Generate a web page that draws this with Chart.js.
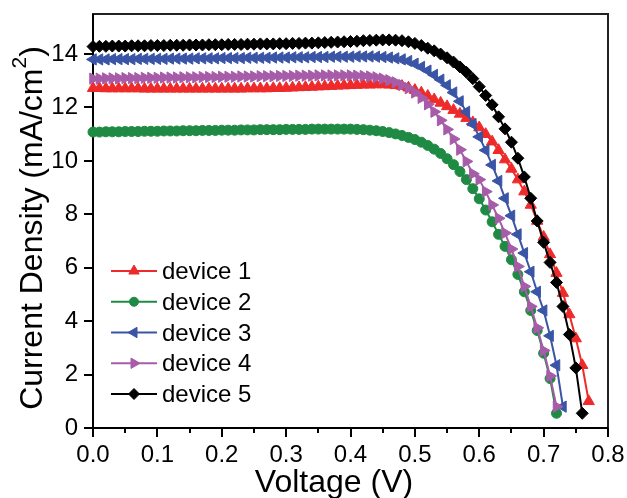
<!DOCTYPE html>
<html>
<head>
<meta charset="utf-8">
<script src="https://cdn.jsdelivr.net/npm/chart.js@4.4.1/dist/chart.umd.min.js"></script>
<style>
  html, body { margin: 0; padding: 0; background: #fff; }
  canvas { display: block; }
</style>
</head>
<body>
<canvas id="jvChart" width="627" height="498"></canvas>
<script>
// voltage sweep (V), shared by all devices
const voltage = [
  0.00, 0.01, 0.02, 0.03, 0.04, 0.05, 0.06, 0.07, 0.08, 0.09,
  0.10, 0.11, 0.12, 0.13, 0.14, 0.15, 0.16, 0.17, 0.18, 0.19,
  0.20, 0.21, 0.22, 0.23, 0.24, 0.25, 0.26, 0.27, 0.28, 0.29,
  0.30, 0.31, 0.32, 0.33, 0.34, 0.35, 0.36, 0.37, 0.38, 0.39,
  0.40, 0.41, 0.42, 0.43, 0.44, 0.45, 0.46, 0.47, 0.48, 0.49,
  0.50, 0.51, 0.52, 0.53, 0.54, 0.55, 0.56, 0.57, 0.58, 0.59,
  0.60, 0.61, 0.62, 0.63, 0.64, 0.65, 0.66, 0.67, 0.68, 0.69,
  0.70, 0.71, 0.72, 0.73, 0.74, 0.75, 0.76, 0.77
];

// current density (mA/cm2)
const device1 = [
  12.72, 12.72, 12.71, 12.71, 12.71, 12.71, 12.71, 12.71, 12.70, 12.70,
  12.70, 12.70, 12.70, 12.70, 12.70, 12.70, 12.70, 12.70, 12.70, 12.70,
  12.70, 12.70, 12.70, 12.70, 12.71, 12.71, 12.71, 12.71, 12.72, 12.72,
  12.73, 12.74, 12.75, 12.76, 12.77, 12.78, 12.79, 12.80, 12.81, 12.82,
  12.83, 12.84, 12.85, 12.85, 12.86, 12.86, 12.85, 12.83, 12.80, 12.74,
  12.65, 12.55, 12.43, 12.30, 12.17, 12.04, 11.90, 11.76, 11.60, 11.44,
  11.25, 11.00, 10.72, 10.40, 10.05, 9.70, 9.30, 8.85, 8.35, 7.75,
  7.15, 6.50, 5.80, 5.05, 4.25, 3.35, 2.35, 1.00
];
const device2 = [
  11.08, 11.08, 11.09, 11.09, 11.09, 11.10, 11.10, 11.10, 11.11, 11.11,
  11.11, 11.12, 11.12, 11.12, 11.13, 11.13, 11.13, 11.14, 11.14, 11.14,
  11.15, 11.15, 11.15, 11.16, 11.16, 11.16, 11.17, 11.17, 11.17, 11.17,
  11.18, 11.18, 11.18, 11.18, 11.19, 11.19, 11.19, 11.19, 11.19, 11.19,
  11.19, 11.18, 11.17, 11.15, 11.13, 11.10, 11.06, 11.01, 10.95, 10.88,
  10.80, 10.70, 10.58, 10.44, 10.28, 10.08, 9.86, 9.60, 9.30, 8.96,
  8.58, 8.16, 7.72, 7.25, 6.80, 6.30, 5.75, 5.10, 4.40, 3.65,
  2.80, 1.85, 0.55
];
const device3 = [
  13.80, 13.80, 13.80, 13.81, 13.81, 13.81, 13.81, 13.82, 13.82, 13.82,
  13.82, 13.82, 13.83, 13.83, 13.83, 13.83, 13.84, 13.84, 13.84, 13.84,
  13.85, 13.85, 13.85, 13.85, 13.86, 13.86, 13.86, 13.86, 13.87, 13.87,
  13.87, 13.88, 13.88, 13.88, 13.89, 13.89, 13.89, 13.90, 13.90, 13.90,
  13.90, 13.91, 13.91, 13.91, 13.90, 13.89, 13.87, 13.84, 13.80, 13.74,
  13.64, 13.52, 13.38, 13.22, 13.04, 12.83, 12.56, 12.23, 11.84, 11.38,
  10.90, 10.40, 9.85, 9.25, 8.60, 7.95, 7.25, 6.55, 5.85, 5.10,
  4.40, 3.45, 2.35, 0.80
];
const device4 = [
  13.08, 13.08, 13.09, 13.09, 13.09, 13.10, 13.10, 13.10, 13.11, 13.11,
  13.11, 13.12, 13.12, 13.12, 13.13, 13.13, 13.13, 13.14, 13.14, 13.14,
  13.15, 13.15, 13.15, 13.16, 13.16, 13.16, 13.17, 13.17, 13.17, 13.18,
  13.18, 13.18, 13.19, 13.19, 13.19, 13.20, 13.20, 13.20, 13.20, 13.20,
  13.20, 13.19, 13.18, 13.16, 13.13, 13.08, 13.02, 12.94, 12.84, 12.72,
  12.56, 12.36, 12.12, 11.84, 11.52, 11.18, 10.82, 10.42, 9.98, 9.52,
  9.30, 8.85, 8.35, 7.85, 7.30, 6.70, 6.05, 5.30, 4.55, 3.75,
  2.90, 1.95, 0.80
];
const device5 = [
  14.28, 14.29, 14.29, 14.30, 14.30, 14.30, 14.31, 14.31, 14.31, 14.32,
  14.32, 14.32, 14.33, 14.33, 14.33, 14.34, 14.34, 14.34, 14.35, 14.35,
  14.35, 14.36, 14.36, 14.36, 14.37, 14.37, 14.38, 14.38, 14.38, 14.39,
  14.39, 14.40, 14.40, 14.41, 14.41, 14.42, 14.43, 14.44, 14.45, 14.46,
  14.47, 14.48, 14.50, 14.51, 14.52, 14.53, 14.53, 14.52, 14.50, 14.46,
  14.40, 14.32, 14.22, 14.12, 14.00, 13.86, 13.70, 13.52, 13.32, 13.08,
  12.78, 12.45, 12.10, 11.65, 11.20, 10.70, 10.10, 9.40, 8.60, 7.75,
  6.95, 6.20, 5.45, 4.55, 3.50, 2.25, 0.55
];

const labels = ['device 1', 'device 2', 'device 3', 'device 4', 'device 5'];
const series = [device1, device2, device3, device4, device5];
const colors = ['#ee2b2a', '#1f8a43', '#3a55a5', '#a65ca8', '#000000'];
const markers = [
  { style: 'triangle', rotation: 0, radius: 6.5 },
  { style: 'circle', rotation: 0, radius: 5 },
  { style: 'triangle', rotation: -90, radius: 6.5 },
  { style: 'triangle', rotation: 90, radius: 6.5 },
  { style: 'rectRot', rotation: 0, radius: 6 }
];

const FONT = "'Liberation Sans', Arial, sans-serif";

const datasets = series.map((vals, i) => ({
  label: labels[i],
  data: vals.map((j, k) => ({ x: voltage[k], y: j })),
  borderColor: colors[i],
  backgroundColor: colors[i],
  borderWidth: 2,
  pointStyle: markers[i].style,
  rotation: markers[i].rotation,
  pointRadius: markers[i].radius,
  pointHoverRadius: markers[i].radius,
  pointBorderWidth: 1,
  tension: 0,
  clip: false,
  order: 5 - i
}));

// frame, outward ticks, legend and axis titles
const decorations = {
  id: 'decorations',
  beforeDatasetsDraw(chart) {
    const { ctx, chartArea: a, scales } = chart;
    ctx.save();
    ctx.lineWidth = 2;
    ctx.strokeStyle = '#222';
    ctx.strokeRect(a.left, a.top, a.right - a.left, a.bottom - a.top);
    ctx.strokeStyle = '#000';
    ctx.beginPath();
    ctx.moveTo(a.left, a.top);
    ctx.lineTo(a.left, a.bottom);
    ctx.lineTo(a.right, a.bottom);
    ctx.stroke();

    ctx.beginPath();
    scales.y.ticks.forEach(t => {
      if (!Number.isInteger(t.value)) return;
      const py = Math.round(scales.y.getPixelForValue(t.value));
      const len = t.value % 2 === 0 ? 9 : 5;
      ctx.moveTo(a.left, py);
      ctx.lineTo(a.left - len, py);
    });
    scales.x.ticks.forEach(t => {
      const px = Math.round(scales.x.getPixelForValue(t.value));
      const len = Math.round(t.value * 20) % 2 === 0 ? 9 : 5;
      ctx.moveTo(px, a.bottom);
      ctx.lineTo(px, a.bottom + len);
    });
    ctx.stroke();
    ctx.restore();
  },
  afterDraw(chart) {
    const { ctx } = chart;
    ctx.save();

    // legend
    chart.data.datasets.forEach((ds, i) => {
      const y = 271 + i * 30.75;
      ctx.strokeStyle = ds.borderColor;
      ctx.fillStyle = ds.borderColor;
      ctx.lineWidth = 2;
      ctx.beginPath();
      ctx.moveTo(111, y);
      ctx.lineTo(157, y);
      ctx.stroke();
      ctx.lineWidth = 1;
      Chart.helpers.drawPoint(ctx, {
        pointStyle: ds.pointStyle,
        rotation: ds.rotation,
        radius: ds.pointRadius - 0.5,
        borderWidth: 1
      }, 134, y);
      ctx.fillStyle = '#000';
      ctx.font = '24px ' + FONT;
      ctx.textAlign = 'left';
      ctx.textBaseline = 'alphabetic';
      ctx.fillText(ds.label, 162, y + 8);
    });

    // x title
    ctx.fillStyle = '#000';
    ctx.font = '32px ' + FONT;
    ctx.textAlign = 'center';
    ctx.textBaseline = 'alphabetic';
    ctx.fillText('Voltage (V)', 334, 492);

    // y title with superscript
    const main = 'Current Density (mA/cm';
    ctx.font = '32px ' + FONT;
    const w1 = ctx.measureText(main).width;
    const w3 = ctx.measureText(')').width;
    ctx.font = '21px ' + FONT;
    const w2 = ctx.measureText('2').width;
    const total = w1 + w2 + w3;
    ctx.translate(42, 228);
    ctx.rotate(-Math.PI / 2);
    ctx.textAlign = 'left';
    ctx.font = '32px ' + FONT;
    ctx.fillText(main, -total / 2, 0);
    ctx.font = '21px ' + FONT;
    ctx.fillText('2', -total / 2 + w1, -16);
    ctx.font = '32px ' + FONT;
    ctx.fillText(')', -total / 2 + w1 + w2, 0);
    ctx.restore();
  }
};

new Chart(document.getElementById('jvChart'), {
  type: 'line',
  data: { datasets },
  options: {
    responsive: false,
    animation: false,
    layout: { padding: { top: 14, right: 19, left: 0, bottom: 0 } },
    plugins: {
      legend: { display: false },
      tooltip: { enabled: false }
    },
    scales: {
      x: {
        type: 'linear',
        min: 0,
        max: 0.8,
        afterFit: s => {
          s.height = 70;
          s.paddingLeft = 0;
          s.paddingRight = 0;
        },
        grid: { display: false, drawTicks: false },
        border: { display: false },
        ticks: {
          stepSize: 0.05,
          autoSkip: false,
          maxRotation: 0,
          padding: 13,
          color: '#000',
          font: { family: FONT, size: 24 },
          callback: v => (Math.round(v * 20) % 2 === 0 ? v.toFixed(1) : '')
        }
      },
      y: {
        type: 'linear',
        min: 0,
        max: 15.5,
        afterFit: s => {
          s.width = 93;
          s.paddingTop = 0;
          s.paddingBottom = 0;
        },
        grid: { display: false, drawTicks: false },
        border: { display: false },
        ticks: {
          stepSize: 1,
          includeBounds: false,
          padding: 15,
          color: '#000',
          font: { family: FONT, size: 24 },
          callback: v => (Number.isInteger(v) && v % 2 === 0 ? String(v) : '')
        }
      }
    }
  },
  plugins: [decorations]
});
</script>
</body>
</html>
